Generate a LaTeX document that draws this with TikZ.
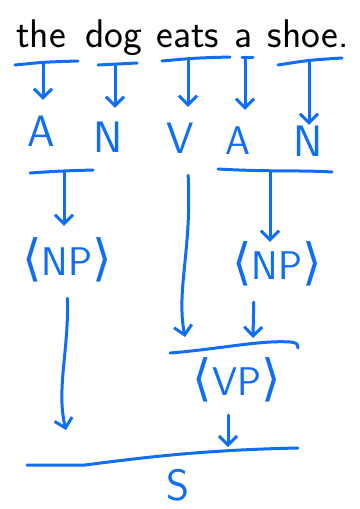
\documentclass[tikz,border=0pt]{standalone}
\usepackage{fontspec}
\newfontfamily\brk{DejaVu Sans}
\usetikzlibrary{arrows.meta}
\definecolor{ink}{RGB}{16,110,245}
\newcommand{\lbrk}{{\brk\fontsize{50}{50}\selectfont⟨}}
\newcommand{\rbrk}{{\brk\fontsize{50}{50}\selectfont⟩}}
\begin{document}
\begin{tikzpicture}[x=1pt,y=-1pt,
  pen/.style={draw=ink,line width=3pt,line cap=round,line join=round},
  arr/.style={pen,-{Straight Barb[length=9pt,width=18pt]}},
  word/.style={font=\fontsize{40}{40}\selectfont\sffamily,anchor=base,inner sep=0pt},
  cat/.style={text=ink,font=\fontsize{44}{44}\selectfont\sffamily,inner sep=0pt,text height=30pt,text depth=0pt},
  phr/.style={text=ink,font=\fontsize{40}{40}\selectfont\sffamily,inner sep=0pt,text height=34pt,text depth=10pt}]
\useasboundingbox (0,0) rectangle (359,509);
% words
\node[word] (w1) at (41,47) {the};
\node[word] (w2) at (114,47) {dog};
\node[word] (w3) at (188,47) {eats};
\node[word] (w4) at (244,47) {a};
\node[word] (w5) at (303,47) {shoe};
\node[word] (w6) at (344,47) {.};
% level 1 bars
\coordinate (b1) at (43,63);
\coordinate (b2) at (115,64);
\coordinate (b3) at (188,59);
\coordinate (b4) at (245,57);
\coordinate (b5) at (309,61);
\draw[pen] (15,65) .. controls (45,62) .. (78,61);
\draw[pen] (98,65) -- (137,63);
\draw[pen] (162,61) .. controls (195,58) .. (230,57);
\draw[pen] (242,57) -- (253,57);
\draw[pen] (278,65) .. controls (310,60) .. (342,58);
% categories
\node[cat] (A1) at (41,131) {A};
\node[cat] (N1) at (108,137) {N};
\node[cat] (V) at (180,138) {V};
\node[cat,font=\fontsize{40}{40}\selectfont\sffamily] (A2) at (238,139) {A};
\node[cat] (N2) at (308,141) {N};
\draw[arr,shorten >=16pt] (b1) -- (b1 |- A1.north);
\draw[arr,shorten >=14pt] (b2) -- (b2 |- N1.north);
\draw[arr,shorten >=16pt] (b3) -- (b3 |- V.north);
\draw[arr,shorten >=14pt] (b4) -- (b4 |- A2.north);
\draw[arr,shorten >=1pt] (b5) -- (b5 |- N2.north);
% level 2 bars
\coordinate (c1) at (64,172);
\coordinate (c2) at (270,171);
\draw[pen] (30,173) .. controls (60,171) .. (93,170);
\draw[pen] (218,169) .. controls (270,172) and (300,170) .. (332,172);
% NPs
\node[phr] (NP1) at (67,263) {\lbrk NP\rbrk};
\node[phr] (NP2) at (277,267) {\lbrk NP\rbrk};
\draw[arr,shorten >=15pt] (c1) -- (c1 |- NP1.north);
\draw[arr,shorten >=3pt] (c2) -- (c2 |- NP2.north);
% to VP bar
\coordinate (vt) at (185,337);
\coordinate (n2t) at (253,338);
\draw[arr,shorten <=22pt] ([xshift=7pt]V.south) .. controls (192,250) and (176,290) .. (vt);
\draw[arr,shorten <=13pt] ([xshift=-23pt]NP2.south) -- (n2t);
\draw[pen] (170,353) .. controls (220,349) and (260,340) .. (290,342) .. controls (297,343) .. (298,348);
% VP
\node[phr] (VP) at (237,383) {\lbrk VP\rbrk};
\coordinate (vpt) at (228,447);
\coordinate (n1t) at (66,430);
\draw[arr,shorten <=10pt] ([xshift=-9pt]VP.south) -- (vpt);
\draw[arr,shorten <=13pt] (NP1.south) .. controls (69,350) and (56,390) .. (n1t);
% S bar
\draw[pen] (27,465) -- (85,465) .. controls (140,458) and (200,450) .. (298,448);
\node[cat] (S) at (178,485) {S};
\end{tikzpicture}
\end{document}
